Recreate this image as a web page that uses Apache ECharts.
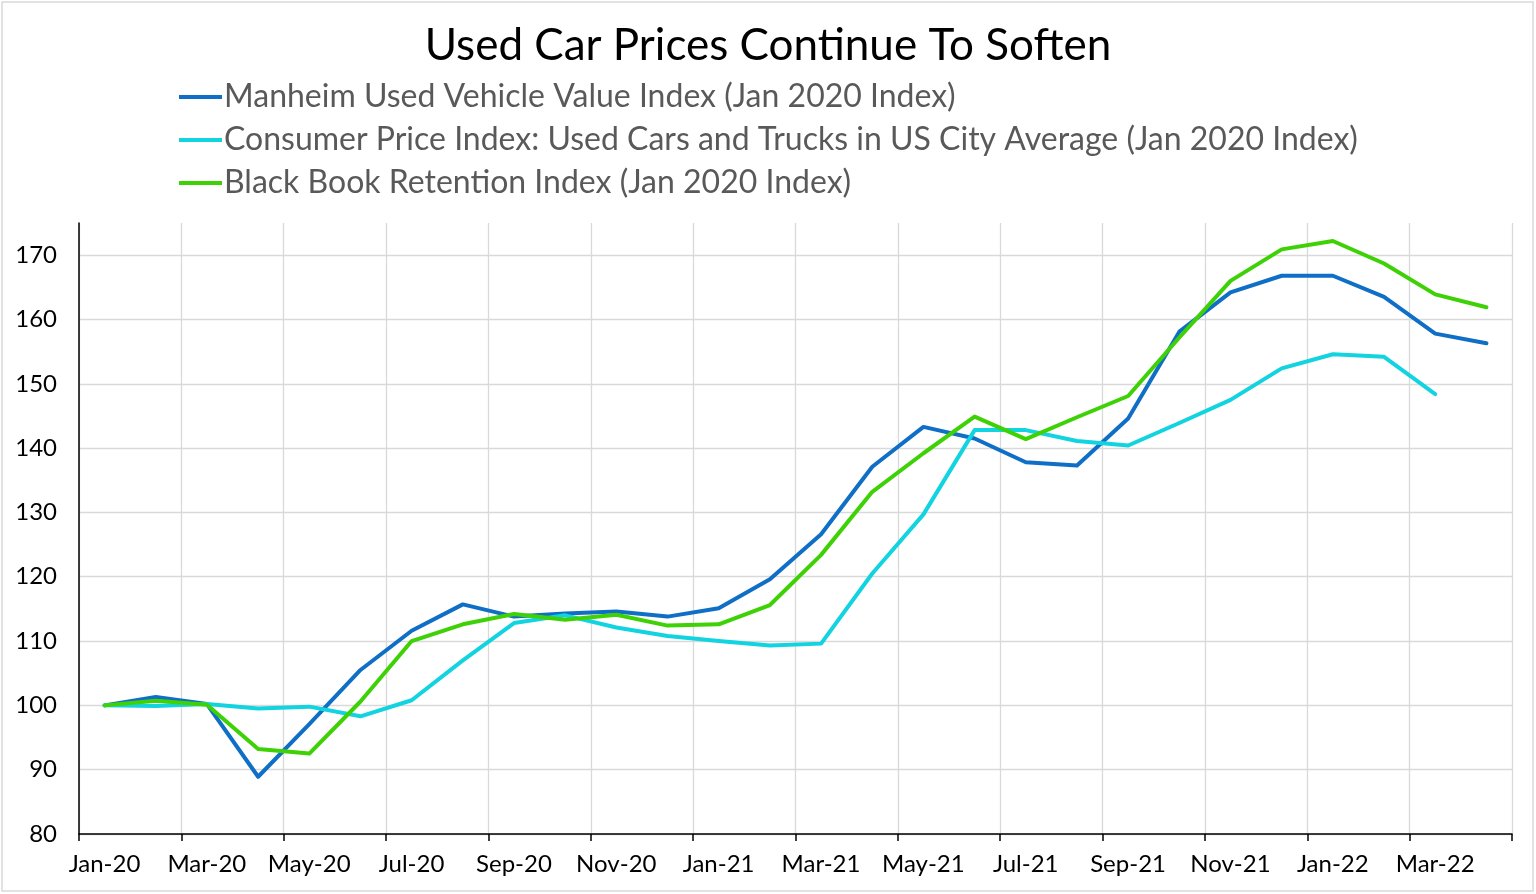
<!DOCTYPE html>
<html>
<head>
<meta charset="utf-8">
<script src="https://cdn.jsdelivr.net/npm/echarts@6/dist/echarts.min.js"></script>
<style>
html,body{margin:0;padding:0;background:#fff;}
#c{width:1536px;height:894px;}
</style>
</head>
<body>
<div id="c"></div>
<script>
const titleText = 'Used Car Prices Continue To Soften';
const seriesNames = [
  'Manheim Used Vehicle Value Index (Jan 2020 Index)',
  'Consumer Price Index: Used Cars and Trucks in US City Average (Jan 2020 Index)',
  'Black Book Retention Index (Jan 2020 Index)'
];
const months = ['Jan-20','Feb-20','Mar-20','Apr-20','May-20','Jun-20','Jul-20','Aug-20','Sep-20','Oct-20','Nov-20','Dec-20',
  'Jan-21','Feb-21','Mar-21','Apr-21','May-21','Jun-21','Jul-21','Aug-21','Sep-21','Oct-21','Nov-21','Dec-21',
  'Jan-22','Feb-22','Mar-22','Apr-22'];
const tickLabels = ['Jan-20','Mar-20','May-20','Jul-20','Sep-20','Nov-20','Jan-21','Mar-21','May-21','Jul-21','Sep-21','Nov-21','Jan-22','Mar-22'];
const manheim = [100.0, 101.3, 100.2, 88.9, 97.1, 105.5, 111.6, 115.7, 113.8, 114.3, 114.6, 113.8,
  115.1, 119.6, 126.6, 137.1, 143.3, 141.5, 137.8, 137.3, 144.6, 158.1, 164.2, 166.8,
  166.8, 163.5, 157.8, 156.3];
const cpi = [100.0, 99.9, 100.2, 99.5, 99.8, 98.3, 100.8, 107.0, 112.8, 114.0, 112.1, 110.8,
  110.0, 109.3, 109.6, 120.5, 129.7, 142.8, 142.8, 141.1, 140.4, 143.9, 147.5, 152.4,
  154.6, 154.2, 148.4];
const blackBook = [100.0, 100.7, 100.1, 93.2, 92.5, 100.6, 110.0, 112.6, 114.2, 113.3, 114.1, 112.4,
  112.6, 115.6, 123.4, 133.2, 139.2, 144.9, 141.4, 144.8, 148.1, 157.2, 166.0, 170.9,
  172.2, 168.7, 163.9, 161.9];

const colors = ['#0F6FC6', '#12D3E0', '#3ED206'];
const FONT = 'Lato';

// each monthly value sits in the middle of its month slot on the axis
function toPoints(arr) { return arr.map((v, i) => [i + 0.5, v]); }

const chart = echarts.init(document.getElementById('c'));
const mkSeries = (name, arr, color) => ({
  name: name, type: 'line', data: toPoints(arr), showSymbol: false, symbol: 'none',
  lineStyle: { color: color, width: 4, cap: 'round', join: 'round' },
  itemStyle: { color: color }
});
const gridColors = [];
for (let i = 0; i < 10; i++) gridColors.push('#d9d9d9');
gridColors.push('rgba(0,0,0,0)');

chart.setOption({
  animation: false,
  color: colors,
  textStyle: { fontFamily: FONT },
  title: {
    text: titleText, left: 'center', top: 19,
    textStyle: { fontFamily: FONT, fontSize: 44, fontWeight: 'normal', color: '#000' }
  },
  legend: {
    orient: 'vertical', left: 174, top: 76, itemGap: 11,
    icon: 'rect', itemWidth: 43, itemHeight: 4,
    data: seriesNames,
    textStyle: { fontFamily: FONT, fontSize: 32, color: '#595959', padding: [0, 0, 0, -3] }
  },
  grid: { left: 79, right: 24, top: 223, bottom: 60, containLabel: false },
  xAxis: {
    type: 'value', min: 0, max: 28, interval: 2,
    axisLine: { show: true, lineStyle: { color: '#000', width: 1.5 } },
    axisTick: { show: true, length: 7, lineStyle: { color: '#000', width: 1.5 } },
    splitLine: { show: true, lineStyle: { color: '#d9d9d9', width: 1.3 } },
    axisLabel: {
      fontFamily: FONT, fontSize: 24, color: '#000', margin: 18,
      padding: [0, 0, 0, 51],
      formatter: v => (tickLabels[v / 2] !== undefined ? tickLabels[v / 2] : '')
    }
  },
  yAxis: {
    type: 'value', min: 80, max: 175, interval: 10,
    axisLine: { show: true, lineStyle: { color: '#000', width: 1.5 } },
    axisTick: { show: false },
    splitLine: { show: true, lineStyle: { color: gridColors, width: 1.3 } },
    axisLabel: {
      fontFamily: FONT, fontSize: 24, color: '#000', margin: 22,
      formatter: v => (v % 10 === 0 ? String(v) : '')
    }
  },
  graphic: [{
    type: 'rect', silent: true, z: -1,
    shape: { x: 2, y: 2, width: 1531, height: 889 },
    style: { fill: 'none', stroke: '#d9d9d9', lineWidth: 1.5 }
  }],
  series: [
    mkSeries(seriesNames[0], manheim, colors[0]),
    mkSeries(seriesNames[1], cpi, colors[1]),
    mkSeries(seriesNames[2], blackBook, colors[2])
  ]
});
</script>
</body>
</html>
